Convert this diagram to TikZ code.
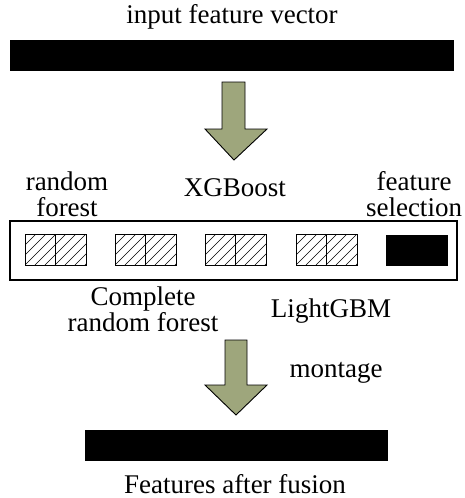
\documentclass[tikz,border=0pt]{standalone}
\usepackage{fontspec}
\setmainfont{Liberation Serif}
\definecolor{arrowfill}{RGB}{158,166,124}
\tikzset{
  px/.style={x=1pt,y=-1pt},
  lbl/.style={font=\fontsize{27}{26}\selectfont, align=center, inner sep=0pt},
  bar/.style={fill=black, draw=black},
  fatarrow/.style={fill=arrowfill, draw=black, line width=0.9pt, line join=miter},
  cell/.style={draw=black, line width=1pt},
}
% hatched two-cell block with its upper-left corner at (#1,#2)
\newcommand{\hatchpair}[3]{%
  \begin{scope}
    \clip (#1,#2) rectangle ++(61,31);
    \foreach \k in {-30,-20,...,70}
      \draw[line width=0.6pt] (#1+\k,#2+31) -- ++(31,-31);
  \end{scope}
  \draw[cell] (#1,#2) rectangle ++(30.5,31);
  \draw[cell] (#1+30.5,#2) rectangle ++(30.5,31);
  \coordinate (#3) at (#1+30.5,#2+15.5);
}
\begin{document}
\begin{tikzpicture}[px]
\useasboundingbox (0,0) rectangle (464,498);

\node[lbl] (inlbl) at (232,17) {input feature vector};
\node[bar, minimum width=443pt, minimum height=30pt, inner sep=0pt] (inbar) at (231.5,55) {};

% first arrow
\draw[fatarrow] (222,82) -- (245,82) -- (245,129) -- (267,129) -- (234,160)
  -- (205,129) -- (222,129) -- cycle;

\node[lbl] (rf) at (67,194) {random\\forest};
\node[lbl] (xgb) at (235,188) {XGBoost};
\node[lbl] (fs) at (414,194) {feature\\selection};

\draw[line width=1.1pt] (10,221) rectangle (457,280);
\coordinate (boxc) at (233,250);

\hatchpair{25}{234}{b1}
\hatchpair{115}{234}{b2}
\hatchpair{205}{234}{b3}
\hatchpair{296}{234}{b4}
\node[bar, minimum width=61pt, minimum height=30pt, inner sep=0pt] (b5) at (416.5,250) {};

\node[lbl] (crf) at (143,309) {Complete\\random forest};
\node[lbl] (lgbm) at (331,311) {LightGBM};
\node[lbl] (mont) at (336,373) {montage};

% second arrow
\draw[fatarrow] (225,340) -- (247,340) -- (247,385) -- (267,385) -- (236,415)
  -- (205,385) -- (225,385) -- cycle;

\node[bar, minimum width=302pt, minimum height=30pt, inner sep=0pt] (outbar) at (236,445) {};
\node[lbl] (outlbl) at (235,484) {Features after fusion};
\end{tikzpicture}
\end{document}
